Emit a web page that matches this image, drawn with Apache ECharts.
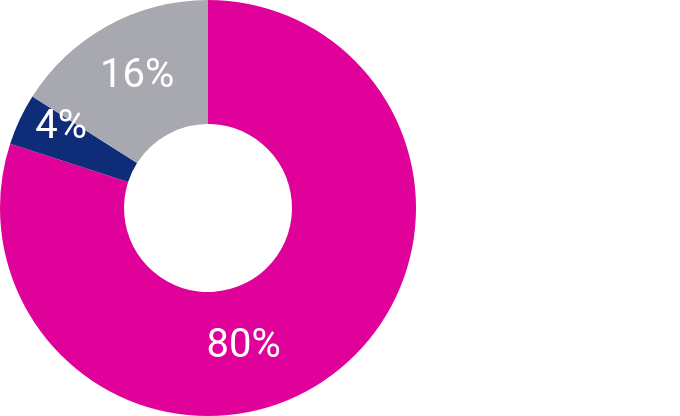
<!DOCTYPE html>
<html>
<head>
    <meta charset="utf-8">
    <title>Donut</title>
    <style>
        body { margin: 0; padding: 0; background: #fff; }
        #chart { width: 680px; height: 416px; }
    </style>
</head>
<body>
    <div id="chart"></div>
    <script src="https://cdn.jsdelivr.net/npm/echarts@6/dist/echarts.min.js"></script>
    <script>
        // values, clockwise from 12 o'clock
        const categories = ['A', 'B', 'C'];
        const shares = [80, 4, 16];
        const colors = ['#E0009A', '#0E2C78', '#A8A9B0'];
        // nudges so labels sit where the reference has them
        const labelOffsets = [[-52, 18], [-12, -17], [1, 0]];

        const chart = echarts.init(document.getElementById('chart'));
        chart.setOption({
            animation: false,
            series: [{
                type: 'pie',
                center: [208, 208],
                radius: [84, 208],
                startAngle: 90,
                clockwise: true,
                silent: true,
                label: {
                    show: true,
                    position: 'inside',
                    formatter: '{c}%',
                    color: '#fff',
                    fontFamily: 'Roboto',
                    fontSize: 40,
                    fontWeight: 'normal'
                },
                labelLine: { show: false },
                data: categories.map((name, i) => ({
                    name: name,
                    value: shares[i],
                    itemStyle: { color: colors[i] },
                    label: { offset: labelOffsets[i] }
                }))
            }]
        });
    </script>
</body>
</html>
